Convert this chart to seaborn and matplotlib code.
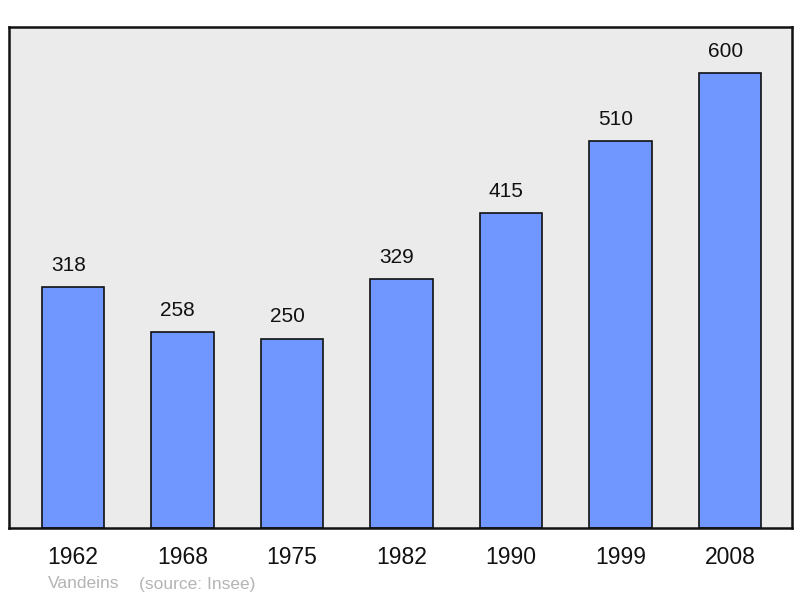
import matplotlib
matplotlib.use("Agg")
import matplotlib.pyplot as plt
import seaborn as sns
import pandas as pd

years = ["1962", "1968", "1975", "1982", "1990", "1999", "2008"]
population = [318, 258, 250, 329, 415, 510, 600]
town = "Vandeins"
source = "(source: Insee)"

sns.set_style("white")
plt.rcParams['font.family'] = ['Liberation Sans', 'DejaVu Sans']

df = pd.DataFrame({"year": years, "pop": population})

fig = plt.figure(figsize=(8, 5.98), dpi=100)
ax = fig.add_axes([9/800, 1-528/598, (792-9)/800, (528-27)/598])
ax.set_facecolor("#ebebeb")

sns.barplot(data=df, x="year", y="pop", ax=ax, color="#7097ff", saturation=1,
            width=0.57, edgecolor="#111111", linewidth=1.2)

for p, v in zip(ax.patches, population):
    ax.annotate(str(v), (p.get_x() + p.get_width()/2, p.get_height()),
                xytext=(-3.5, 15.5), textcoords="offset points",
                ha="center", va="center", fontsize=15, color="#111111")

ax.set_xlim(-0.585, 6.565)
ax.set_ylim(0, 661)
ax.set_yticks([])
ax.set_xlabel("")
ax.set_ylabel("")
ax.tick_params(axis="x", length=0, pad=13, labelsize=16.5, labelcolor="#111111")
for s in ax.spines.values():
    s.set_visible(True)
    s.set_color("#111111")
    s.set_linewidth(1.8)

fig.text(48/800, 1-584/598, town, fontsize=12.5, color="#b4b4b4", va="center", ha="left")
fig.text(139/800, 1-584/598, source, fontsize=12.5, color="#b4b4b4", va="center", ha="left")

fig.savefig("out.png", dpi=100, facecolor="white")
